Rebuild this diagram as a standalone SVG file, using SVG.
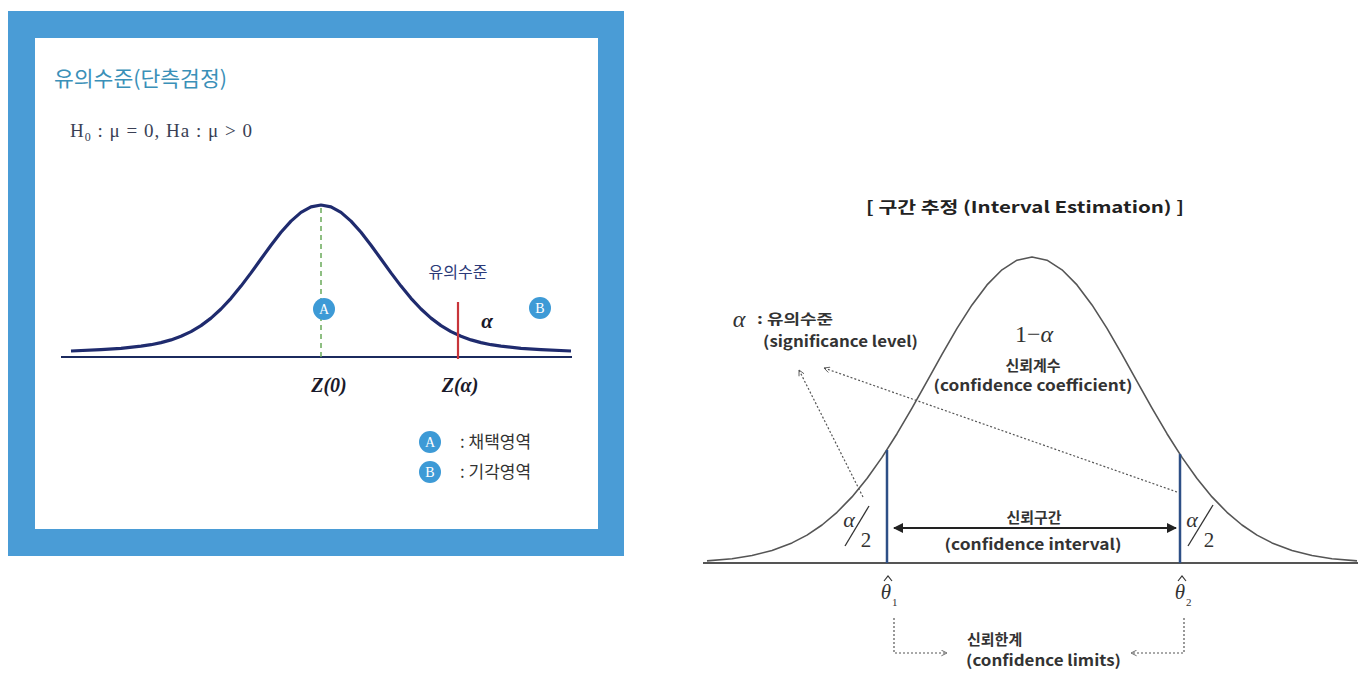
<svg xmlns="http://www.w3.org/2000/svg" width="1366" height="690" viewBox="0 0 1366 690">
<style>
.kr{font-family:"Noto Sans CJK KR","Noto Sans",sans-serif}
.krb{font-family:"Noto Sans CJK KR","Noto Sans",sans-serif;font-weight:bold}
.sf{font-family:"Liberation Serif","DejaVu Serif",serif}
.sfi{font-family:"Liberation Serif","DejaVu Serif",serif;font-style:italic}
.badge{fill:#3d9ad6}
.badgeT{font-family:"Liberation Serif","DejaVu Serif",serif;font-size:14px;fill:#fff;text-anchor:middle}
.dot{fill:none;stroke:#555;stroke-width:1.2;stroke-dasharray:2 2}
.hat{fill:none;stroke:#333;stroke-width:1.2}
</style>
<defs>
<marker id="open" viewBox="0 0 10 10" refX="9" refY="5" markerWidth="7" markerHeight="7" orient="auto" markerUnits="userSpaceOnUse">
<path d="M1,1 L9,5 L1,9" fill="none" stroke="#555" stroke-width="1.2"/>
</marker>
<marker id="solid" viewBox="0 0 10 10" refX="9" refY="5" markerWidth="10" markerHeight="10" orient="auto-start-reverse" markerUnits="userSpaceOnUse">
<path d="M0,0 L10,5 L0,10 Z" fill="#222"/>
</marker>
</defs>
<rect width="1366" height="690" fill="#fff"/>

<!-- Left panel -->
<g id="left-panel">
<rect x="8" y="11" width="616" height="545" fill="#4a9cd6"/>
<rect x="35" y="38" width="563" height="491" fill="#fff"/>
<text class="kr" x="54" y="86" font-size="21" fill="#3a90b8" textLength="173" lengthAdjust="spacingAndGlyphs">유의수준(단측검정)</text>
<text class="sf" x="70" y="137" font-size="19" fill="#3a3f55" textLength="182" lengthAdjust="spacing">H<tspan font-size="12" dy="4">0</tspan><tspan dy="-4"> : μ = 0, Ha : μ &gt; 0</tspan></text>
</g>

<g id="left-chart">
<line x1="61" y1="357" x2="572" y2="357" stroke="#1b2a5e" stroke-width="2"/>
<line x1="321" y1="208" x2="321" y2="360" stroke="#6aab5a" stroke-width="1.5" stroke-dasharray="5 4"/>
<polyline fill="none" stroke="#1f2b6e" stroke-width="3.2" stroke-linejoin="round" points="71,351 101,349.6 121,348.3 141,346.2 151,344.7 161,342.6 171,339.9 181,336.3 191,331.6 201,325.6 211,318.1 221,309 231,298.3 241,286.1 251,272.9 261,259 271,245.2 281,232.3 291,221.1 301,212.4 311,206.9 321,205 331,206.9 341,212.4 351,221.1 361,232.3 371,245.2 381,259 391,272.9 401,286.1 411,298.3 421,309 431,318.1 441,325.6 451,331.6 461,336.3 471,339.9 481,342.6 491,344.7 501,346.2 521,348.3 541,349.6 571,351"/>
<line x1="458" y1="302" x2="458" y2="359" stroke="#c8353a" stroke-width="2.2"/>
<text class="kr" x="458" y="278" font-size="16" fill="#2b3a78" text-anchor="middle">유의수준</text>
<text class="sfi" x="487" y="328" font-size="21" font-weight="bold" fill="#1a1a2a" text-anchor="middle">α</text>
<text class="sfi" x="329" y="392" font-size="20" font-weight="bold" fill="#1a1a2a" text-anchor="middle">Z(0)</text>
<text class="sfi" x="460" y="392" font-size="20" font-weight="bold" fill="#1a1a2a" text-anchor="middle">Z(α)</text>
</g>

<g id="badge-A">
<circle class="badge" cx="324" cy="309" r="11"/>
<text class="badgeT" x="324" y="314">A</text>
</g>
<g id="badge-B">
<circle class="badge" cx="540" cy="308" r="11"/>
<text class="badgeT" x="540" y="313">B</text>
</g>

<g id="legend">
<circle class="badge" cx="430" cy="442" r="11"/>
<text class="badgeT" x="430" y="447">A</text>
<text class="kr" x="460" y="448" font-size="17" fill="#333">: 채택영역</text>
<circle class="badge" cx="430" cy="472" r="11"/>
<text class="badgeT" x="430" y="477">B</text>
<text class="kr" x="460" y="478" font-size="17" fill="#333">: 기각영역</text>
</g>

<!-- Right panel -->
<g id="right-title">
<text class="krb" x="1025" y="213" font-size="16" fill="#222" text-anchor="middle" textLength="318" lengthAdjust="spacingAndGlyphs">[ 구간 추정 (Interval Estimation) ]</text>
</g>

<g id="right-chart">
<line x1="703" y1="563" x2="1358" y2="563" stroke="#555" stroke-width="2"/>
<polyline fill="none" stroke="#555" stroke-width="1.6" stroke-linejoin="round" points="707,560.9 732,558.7 752,555.5 772,550.5 792,542.9 807,535.1 822,525 837,512.3 852,496.9 867,478.5 882,457.4 897,433.7 912,408.1 927,381.3 942,354.4 957,328.4 972,304.9 987,284.9 1002,269.8 1017,260.2 1032,257 1047,260.2 1062,269.8 1077,284.9 1092,304.9 1107,328.4 1122,354.4 1137,381.3 1152,408.1 1167,433.7 1182,457.4 1197,478.5 1212,496.9 1227,512.3 1242,525 1257,535.1 1272,542.9 1292,550.5 1312,555.5 1332,558.7 1357,560.9"/>
<line x1="887" y1="450" x2="887" y2="563" stroke="#2d4f86" stroke-width="2.5"/>
<line x1="1180" y1="454" x2="1180" y2="563" stroke="#2d4f86" stroke-width="2.5"/>
</g>

<g id="label-alpha">
<text class="sfi" x="739" y="327" font-size="24" fill="#333" text-anchor="middle">α</text>
<text class="krb" x="757" y="324" font-size="14" fill="#333" textLength="76" lengthAdjust="spacingAndGlyphs">: 유의수준</text>
<text class="krb" x="763" y="347" font-size="15" fill="#333" textLength="155" lengthAdjust="spacingAndGlyphs">(significance level)</text>
</g>

<g id="label-coef">
<text class="sf" x="1034" y="342" font-size="24" fill="#333" text-anchor="middle">1−<tspan font-style="italic">α</tspan></text>
<text class="krb" x="1033" y="371" font-size="15" fill="#333" text-anchor="middle">신뢰계수</text>
<text class="krb" x="1033" y="391" font-size="15" fill="#333" text-anchor="middle" textLength="199" lengthAdjust="spacingAndGlyphs">(confidence coefficient)</text>
</g>

<g id="half-alpha-left">
<text class="sfi" x="849" y="527" font-size="22" fill="#333" text-anchor="middle">α</text>
<line x1="845" y1="546" x2="869" y2="506" stroke="#333" stroke-width="1.3"/>
<text class="sf" x="866" y="547" font-size="21" fill="#333" text-anchor="middle">2</text>
</g>
<g id="half-alpha-right">
<text class="sfi" x="1192" y="527" font-size="22" fill="#333" text-anchor="middle">α</text>
<line x1="1188" y1="546" x2="1213" y2="505" stroke="#333" stroke-width="1.3"/>
<text class="sf" x="1209" y="547" font-size="21" fill="#333" text-anchor="middle">2</text>
</g>

<g id="label-interval">
<text class="krb" x="1034" y="523" font-size="15" fill="#333" text-anchor="middle">신뢰구간</text>
<text class="krb" x="1033" y="550" font-size="15" fill="#333" text-anchor="middle" textLength="177" lengthAdjust="spacingAndGlyphs">(confidence interval)</text>
</g>

<g id="theta1">
<text class="sfi" x="886" y="599" font-size="21" fill="#333" text-anchor="middle">θ</text>
<polyline class="hat" points="884,581 888,576 892,581"/>
<text class="sf" x="892" y="606" font-size="11" fill="#333">1</text>
</g>
<g id="theta2">
<text class="sfi" x="1180" y="599" font-size="21" fill="#333" text-anchor="middle">θ</text>
<polyline class="hat" points="1178,581 1182,576 1186,581"/>
<text class="sf" x="1186" y="606" font-size="11" fill="#333">2</text>
</g>

<g id="label-limits">
<text class="krb" x="967" y="645" font-size="15" fill="#333">신뢰한계</text>
<text class="krb" x="966" y="666" font-size="15" fill="#333" textLength="155" lengthAdjust="spacingAndGlyphs">(confidence limits)</text>
</g>

<g id="connectors">
<line x1="863" y1="497" x2="799" y2="370" class="dot" marker-end="url(#open)"/>
<line x1="1177" y1="492" x2="824" y2="368" class="dot" marker-end="url(#open)"/>
<line x1="894" y1="528" x2="1176" y2="528" stroke="#222" stroke-width="2" marker-start="url(#solid)" marker-end="url(#solid)"/>
<path d="M894,618 V653 H947" class="dot" marker-end="url(#open)"/>
<path d="M1184,618 V653 H1131" class="dot" marker-end="url(#open)"/>
</g>
</svg>
